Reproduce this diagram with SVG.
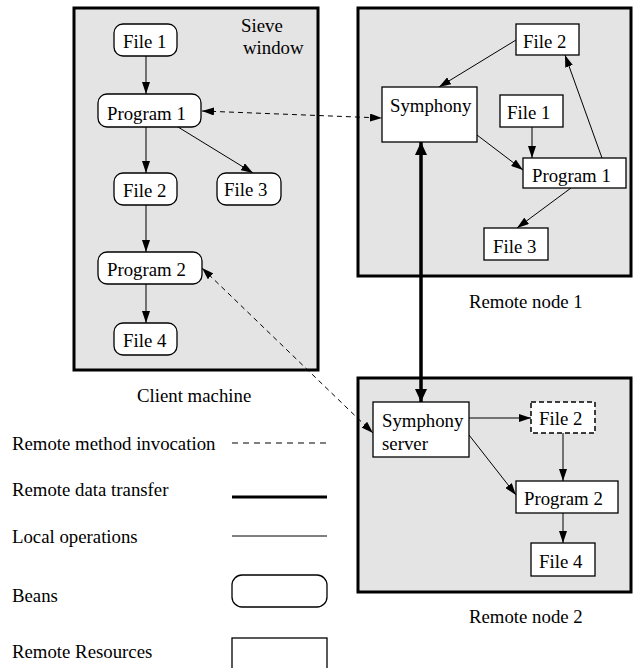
<svg xmlns="http://www.w3.org/2000/svg" width="634" height="668" viewBox="0 0 634 668">
<defs>
<style>
text{font-family:"Liberation Serif","Times New Roman",serif;font-size:18.8px;fill:#000}
.region{fill:#e4e4e4;stroke:#000;stroke-width:3}
.bean{fill:#fff;stroke:#000;stroke-width:1.3}
.res{fill:#fff;stroke:#000;stroke-width:1.3}
.dres{fill:#fff;stroke:#000;stroke-width:1.5;stroke-dasharray:5,3}
.loc{stroke:#000;stroke-width:1;fill:none;marker-end:url(#ah)}
.rmi{stroke:#000;stroke-width:1;fill:none;stroke-dasharray:5,4;marker-start:url(#ah);marker-end:url(#ah)}
.rdt{stroke:#000;stroke-width:3.5;fill:none;marker-start:url(#ahb);marker-end:url(#ahb)}
</style>
<marker id="ah" markerUnits="userSpaceOnUse" markerWidth="12" markerHeight="8" refX="12" refY="4" orient="auto-start-reverse">
<path d="M0,0 L12,4 L0,8 z" fill="#000"/>
</marker>
<marker id="ahb" markerUnits="userSpaceOnUse" markerWidth="13" markerHeight="12" refX="13" refY="6" orient="auto-start-reverse">
<path d="M0,0 L13,6 L0,12 z" fill="#000"/>
</marker>
</defs>
<rect width="634" height="668" fill="#fff"/>

<g id="client-machine">
<rect class="region" x="74" y="8" width="244" height="362"/>
<text x="241" y="32">Sieve</text>
<text x="243" y="54">window</text>
<text x="137" y="402">Client machine</text>
</g>
<g id="remote-node-1">
<rect class="region" x="358" y="8" width="273" height="268"/>
<text x="469" y="308">Remote node 1</text>
</g>
<g id="remote-node-2">
<rect class="region" x="358" y="378" width="273" height="214"/>
<text x="469" y="623">Remote node 2</text>
</g>

<g id="connectors">
<line class="loc" x1="146" y1="56" x2="146" y2="94"/>
<line class="loc" x1="146" y1="127" x2="146" y2="173"/>
<line class="loc" x1="178" y1="127" x2="253" y2="173"/>
<line class="loc" x1="146" y1="205" x2="146" y2="252"/>
<line class="loc" x1="146" y1="284" x2="146" y2="323"/>
<line class="loc" x1="516" y1="40" x2="439" y2="87"/>
<line class="loc" x1="477" y1="135" x2="523" y2="170"/>
<line class="loc" x1="532" y1="127" x2="532" y2="158"/>
<line class="loc" x1="602" y1="158" x2="565" y2="55"/>
<line class="loc" x1="571" y1="188" x2="517" y2="228"/>
<line class="loc" x1="469" y1="418" x2="531" y2="418"/>
<line class="loc" x1="469" y1="435" x2="516" y2="495"/>
<line class="loc" x1="563" y1="433" x2="563" y2="481"/>
<line class="loc" x1="563" y1="513" x2="563" y2="543"/>
<line class="rmi" x1="202" y1="111" x2="382" y2="118"/>
<line class="rmi" x1="202" y1="268" x2="373" y2="433"/>
<line class="rdt" x1="421" y1="142" x2="421" y2="402"/>
</g>

<g id="c-file1"><rect class="bean" x="114" y="24" width="63" height="32" rx="9"/><text x="123" y="48">File 1</text></g>
<g id="c-program1"><rect class="bean" x="98" y="94" width="103" height="33" rx="9"/><text x="107" y="120">Program 1</text></g>
<g id="c-file2"><rect class="bean" x="114" y="173" width="63" height="32" rx="9"/><text x="123" y="197">File 2</text></g>
<g id="c-file3"><rect class="bean" x="217" y="173" width="64" height="32" rx="9"/><text x="224" y="196">File 3</text></g>
<g id="c-program2"><rect class="bean" x="98" y="252" width="104" height="32" rx="9"/><text x="107" y="276">Program 2</text></g>
<g id="c-file4"><rect class="bean" x="114" y="323" width="63" height="32" rx="9"/><text x="123" y="347">File 4</text></g>

<g id="r1-file2"><rect class="res" x="516" y="24" width="63" height="31"/><text x="523" y="48">File 2</text></g>
<g id="r1-symphony"><rect class="res" x="382" y="87" width="95" height="55"/><text x="390" y="112">Symphony</text></g>
<g id="r1-file1"><rect class="res" x="500" y="95" width="63" height="32"/><text x="507" y="119">File 1</text></g>
<g id="r1-program1"><rect class="res" x="523" y="158" width="103" height="30"/><text x="532" y="182">Program 1</text></g>
<g id="r1-file3"><rect class="res" x="484" y="228" width="64" height="32"/><text x="493" y="253">File 3</text></g>

<g id="r2-symphony-server"><rect class="res" x="373" y="402" width="96" height="55"/><text x="382" y="427">Symphony</text><text x="382" y="450">server</text></g>
<g id="r2-file2"><rect class="dres" x="531" y="402" width="64" height="31"/><text x="539" y="425">File 2</text></g>
<g id="r2-program2"><rect class="res" x="516" y="481" width="102" height="32"/><text x="524" y="505">Program 2</text></g>
<g id="r2-file4"><rect class="res" x="531" y="543" width="64" height="33"/><text x="539" y="568">File 4</text></g>

<g id="legend">
<text x="12" y="450">Remote method invocation</text>
<line x1="232" y1="443" x2="327" y2="443" stroke="#000" stroke-width="1" stroke-dasharray="6,5"/>
<text x="12" y="496">Remote data transfer</text>
<line x1="232" y1="497" x2="327" y2="497" stroke="#000" stroke-width="3"/>
<text x="12" y="543">Local operations</text>
<line x1="232" y1="536" x2="327" y2="536" stroke="#000" stroke-width="1"/>
<text x="12" y="602">Beans</text>
<rect class="bean" x="232" y="575" width="95" height="32" rx="10"/>
<text x="12" y="658">Remote Resources</text>
<rect class="res" x="232" y="638" width="95" height="40"/>
</g>
</svg>
